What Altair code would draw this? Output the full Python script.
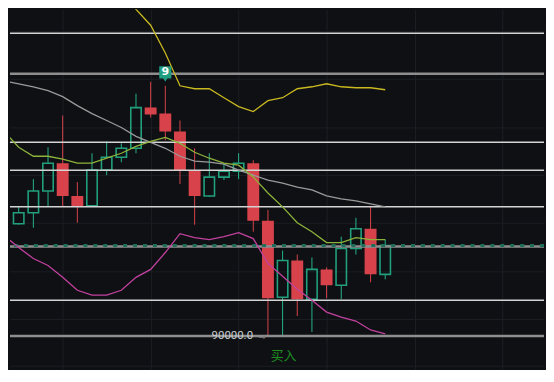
import altair as alt
import pandas as pd

# ---- data ----
opens = [92800, 92260, 92480, 92920, 93480, 92820, 92620, 93340, 93600, 93780,
         94600, 94480, 94120, 93340, 92820, 93200, 93320, 93480, 92320, 90780,
         91520, 90740, 91340, 91020, 91760, 92160, 91240]
closes = [92260, 92480, 92920, 93480, 92820, 92600, 93340, 93600, 93780, 94600,
          94460, 94120, 93340, 92820, 93200, 93320, 93480, 92320, 90760, 91520,
          90740, 91340, 91020, 91760, 92160, 91240, 91820]
highs = [93100, 92600, 93160, 93800, 94440, 93100, 93680, 93920, 93880, 94880,
         95120, 95040, 94340, 93780, 93680, 93480, 93680, 93540, 92540, 91720,
         91640, 91580, 91380, 92000, 92380, 92600, 91940]
lows = [91400, 92240, 92180, 92600, 92600, 92280, 92600, 93240, 93500, 93680,
        94400, 93940, 93060, 92240, 92800, 93140, 93160, 92100, 89980, 89980,
        90400, 90080, 90760, 90740, 91640, 91080, 91140]

ma_gray = [95140, 95080, 95020, 94940, 94820, 94640, 94480, 94340, 94200, 94020,
           93900, 93780, 93620, 93520, 93500, 93460, 93340, 93240, 93140, 93080,
           93000, 92940, 92820, 92760, 92720, 92660, 92600]
ma_olive = [94120, 93800, 93620, 93620, 93560, 93480, 93480, 93580, 93680, 93820,
            93920, 94000, 93880, 93700, 93580, 93480, 93440, 93200, 92880, 92600,
            92280, 92100, 91880, 91880, 91980, 91940, 91940]
ma_magenta = [92020, 91780, 91560, 91420, 91180, 90920, 90820, 90820, 90920, 91180,
              91340, 91680, 92060, 91980, 91940, 92000, 92080, 91960, 91460, 91200,
              90940, 90720, 90480, 90380, 90300, 90120, 90040]
yellow_start = 8
ma_yellow = [96920, 96580, 96260, 95700, 95040, 94980, 94980, 94800, 94620, 94520,
             94740, 94800, 94980, 95020, 95080, 95020, 95000, 95000, 94960]

levels_bright = [96100, 93900, 93340, 92600, 90720]
levels_gray = [95280, 91800, 90000]

grid_x = [4, 10, 16, 22, 28, 34]
grid_y = [96140, 95180, 94200, 93240, 92280, 91300, 90340, 89400]

signal_idx, signal_text = 11, "9"
low_idx, low_text = 18, "90000.0"
buy_idx, buy_text = 19, "买入"

# ---- tables ----
n = len(opens)
df = pd.DataFrame({"i": list(range(n)), "open": opens, "close": closes,
                   "high": highs, "low": lows})
df["top"] = df[["open", "close"]].max(axis=1)
df["bot"] = df[["open", "close"]].min(axis=1)
df["up"] = df["close"] >= df["open"]

ma_rows = []
for name, vals, start in [("gray", ma_gray, 0), ("olive", ma_olive, 0),
                          ("magenta", ma_magenta, 0), ("yellow", ma_yellow, yellow_start)]:
    for k, v in enumerate(vals):
        ma_rows.append({"i": start + k, "v": v, "ma": name})
ma_df = pd.DataFrame(ma_rows)

BG = "#0e1013"
GREEN = "#22a07e"
GREEN_WICK = "#27b38c"
RED = "#d8434b"

xs = alt.Scale(domain=[0.406, 36.83], nice=False, zero=False, padding=0)
ys = alt.Scale(domain=[89340, 96580], nice=False, zero=False, padding=0)

X = alt.X("i:Q", scale=xs,
          axis=alt.Axis(values=grid_x, labels=False, ticks=False, domain=False,
                        grid=True, gridColor="#1b1e23", gridWidth=1, title=None))
Y_AX = alt.Axis(values=grid_y, labels=False, ticks=False, domain=False,
                grid=True, gridColor="#1b1e23", gridWidth=1, title=None)

base = alt.Chart(df)

up = base.transform_filter("datum.up")
dn = base.transform_filter("!datum.up")

wick_up_hi = up.mark_rule(color=GREEN_WICK, strokeWidth=1, clip=True).encode(
    x=X, y=alt.Y("high:Q", scale=ys, axis=Y_AX), y2="top:Q")
wick_up_lo = up.mark_rule(color=GREEN_WICK, strokeWidth=1, clip=True).encode(
    x=alt.X("i:Q", scale=xs), y=alt.Y("bot:Q", scale=ys), y2="low:Q")
body_up = up.mark_bar(size=10.5, fill=BG, fillOpacity=0, stroke=GREEN,
                      strokeWidth=1.6, clip=True).encode(
    x=alt.X("i:Q", scale=xs), y=alt.Y("open:Q", scale=ys), y2="close:Q")

wick_dn = dn.mark_rule(color=RED, strokeWidth=1, clip=True).encode(
    x=alt.X("i:Q", scale=xs), y=alt.Y("high:Q", scale=ys), y2="low:Q")
body_dn = dn.mark_bar(size=12, color=RED, clip=True).encode(
    x=alt.X("i:Q", scale=xs), y=alt.Y("open:Q", scale=ys), y2="close:Q")

lv_b = alt.Chart(pd.DataFrame({"p": levels_bright})).mark_rule(
    color="#d4d4d4", strokeWidth=1.5).encode(y=alt.Y("p:Q", scale=ys))
lv_g = alt.Chart(pd.DataFrame({"p": levels_gray})).mark_rule(
    color="#8e8e8e", strokeWidth=2.5).encode(y=alt.Y("p:Q", scale=ys))

last = alt.Chart(pd.DataFrame({"p": [closes[-1]]})).mark_rule(
    color="#1e6e5a", strokeWidth=3, strokeDash=[4, 6]).encode(y=alt.Y("p:Q", scale=ys))

ma_lines = alt.Chart(ma_df).mark_line(strokeWidth=1.3, clip=True).encode(
    x=alt.X("i:Q", scale=xs), y=alt.Y("v:Q", scale=ys),
    color=alt.Color("ma:N", legend=None,
                    scale=alt.Scale(domain=["gray", "olive", "magenta", "yellow"],
                                    range=["#9a9a9a", "#8db23a", "#c2419f", "#c9b820"])),
    detail="ma:N")

sig_df = pd.DataFrame({"i": [signal_idx], "p": [highs[signal_idx]], "t": [signal_text]})
sig_box = alt.Chart(sig_df).mark_point(shape="square", filled=True, size=150,
                                       color="#1f9e82", opacity=1, yOffset=-13.5).encode(
    x=alt.X("i:Q", scale=xs), y=alt.Y("p:Q", scale=ys))
sig_tri = alt.Chart(sig_df).mark_point(shape="triangle-down", filled=True, size=22,
                                       color="#1f9e82", opacity=1, yOffset=-6).encode(
    x=alt.X("i:Q", scale=xs), y=alt.Y("p:Q", scale=ys))
sig_txt = alt.Chart(sig_df).mark_text(color="white", fontSize=11, font="DejaVu Sans",
                                      fontWeight="bold", dy=-13.5, baseline="middle").encode(
    x=alt.X("i:Q", scale=xs), y=alt.Y("p:Q", scale=ys), text="t:N")

low_df = pd.DataFrame({"i": [low_idx], "p": [lows[low_idx]], "t": [low_text], "a": ["→"]})
low_txt = alt.Chart(low_df).mark_text(color="#c8ccd0", fontSize=11.5, font="Roboto",
                                      align="right", baseline="middle", dx=-15, dy=-1).encode(
    x=alt.X("i:Q", scale=xs), y=alt.Y("p:Q", scale=ys), text="t:N")
low_arrow = alt.Chart(low_df).mark_text(color="#7a7a7a", fontSize=9, font="DejaVu Sans",
                                        align="center", baseline="middle", dx=-6, dy=0).encode(
    x=alt.X("i:Q", scale=xs), y=alt.Y("p:Q", scale=ys), text="a:N")

buy_df = pd.DataFrame({"i": [buy_idx], "p": [lows[buy_idx]], "t": [buy_text]})
buy_txt = alt.Chart(buy_df).mark_text(color="#1f8f22", fontSize=13, font="Noto Sans CJK SC",
                                      align="center", baseline="middle", dx=1, dy=19).encode(
    x=alt.X("i:Q", scale=xs), y=alt.Y("p:Q", scale=ys), text="t:N")

chart = alt.layer(
    wick_up_hi, wick_up_lo, body_up, wick_dn, body_dn,
    lv_b, lv_g, last, ma_lines,
    sig_box, sig_tri, sig_txt, low_txt, low_arrow, buy_txt
).properties(width=538, height=362, padding=0, background=BG).configure_view(
    stroke=None, fill=BG)

chart.save("out.html", embed_options={"renderer": "svg", "actions": False})
